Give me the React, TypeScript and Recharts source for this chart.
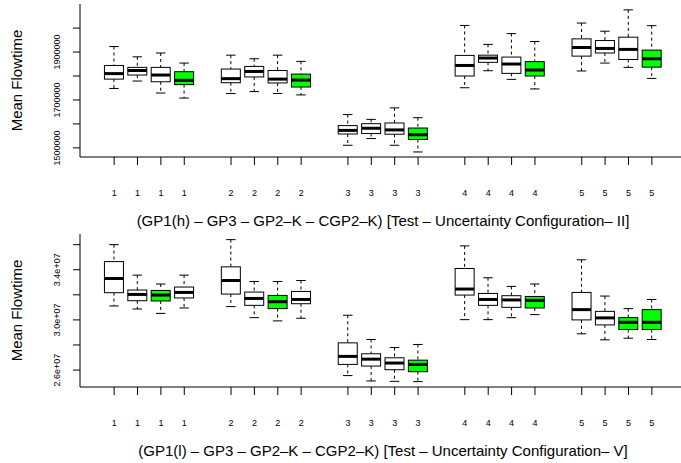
import { ComposedChart, Bar, XAxis, YAxis, Label } from "recharts";

// box positions (R "at") and the group number printed under each box
const positions = [1, 2, 3, 4, 6, 7, 8, 9, 11, 12, 13, 14, 16, 17, 18, 19, 21, 22, 23, 24];
const groupLabels = ["1", "1", "1", "1", "2", "2", "2", "2", "3", "3", "3", "3", "4", "4", "4", "4", "5", "5", "5", "5"];

// Configuration II, GP1(h)
const hMin = [1748000, 1779000, 1729000, 1708000, 1727000, 1735000, 1727000, 1721000, 1511000, 1539000, 1511000, 1483000, 1751000, 1822000, 1786000, 1746000, 1821000, 1854000, 1836000, 1790000];
const hQ1 = [1787000, 1804000, 1776000, 1764000, 1772000, 1796000, 1771000, 1754000, 1558000, 1560000, 1557000, 1535000, 1800000, 1857000, 1811000, 1800000, 1883000, 1896000, 1869000, 1837000];
const hMed = [1810000, 1823000, 1804000, 1782000, 1789000, 1819000, 1787000, 1783000, 1573000, 1582000, 1575000, 1555000, 1844000, 1875000, 1850000, 1825000, 1919000, 1915000, 1911000, 1872000];
const hQ3 = [1844000, 1836000, 1836000, 1818000, 1829000, 1840000, 1823000, 1808000, 1593000, 1601000, 1604000, 1583000, 1886000, 1887000, 1879000, 1860000, 1955000, 1948000, 1962000, 1908000];
const hMax = [1923000, 1880000, 1896000, 1854000, 1887000, 1872000, 1887000, 1861000, 1639000, 1619000, 1667000, 1626000, 2011000, 1932000, 1977000, 1944000, 2021000, 1987000, 2076000, 2010000];
const hGreen = [3, 7, 11, 15, 19];
const hTicks = [1500000, 1600000, 1700000, 1800000, 1900000, 2000000];
const hTickLabels = ["1500000", "", "1700000", "", "1900000", ""];

// Configuration V, GP1(l)
const lMin = [31110000, 30870000, 30520000, 30950000, 31060000, 30180000, 29920000, 30130000, 25560000, 25130000, 25100000, 25080000, 30020000, 30020000, 30180000, 30420000, 28890000, 28410000, 28540000, 28440000];
const lQ1 = [32170000, 31530000, 31510000, 31750000, 32060000, 31160000, 30900000, 31290000, 26450000, 26320000, 26030000, 25870000, 31980000, 31160000, 31000000, 30950000, 30000000, 29600000, 29230000, 29230000];
const lMed = [33300000, 32030000, 31980000, 32190000, 33140000, 31710000, 31450000, 31630000, 27090000, 26870000, 26560000, 26450000, 32460000, 31630000, 31590000, 31560000, 30820000, 30160000, 29810000, 29810000];
const lQ3 = [34650000, 32380000, 32350000, 32620000, 34230000, 32220000, 31950000, 32270000, 28170000, 27300000, 26980000, 26790000, 34100000, 32110000, 31930000, 31870000, 32190000, 30680000, 30180000, 30820000];
const lMax = [36000000, 33570000, 32860000, 33570000, 36400000, 33060000, 33060000, 33140000, 30370000, 28440000, 27800000, 28040000, 35900000, 33360000, 32670000, 32860000, 34790000, 31900000, 30900000, 31630000];
const lGreen = [2, 6, 11, 15, 18, 19];
const lTicks = [26000000, 28000000, 30000000, 32000000, 34000000, 36000000];
const lTickLabels = ["2.6e+07", "", "3.0e+07", "", "3.4e+07", ""];

const GREEN = "#00ff00";
const X_DOMAIN: [number, number] = [-0.46, 25.46];

function buildRows(lo: number[], q1: number[], med: number[], q3: number[], hi: number[], green: number[]) {
  return positions.map((pos, i) => ({
    pos,
    lo: lo[i],
    q1: q1[i],
    med: med[i],
    q3: q3[i],
    hi: hi[i],
    boxFill: green.includes(i) ? GREEN : "#ffffff",
  }));
}

// whole box-and-whisker drawn inside the [min, max] range bar
function BoxShape(props: any) {
  const { x, y, width, height, payload } = props;
  if (payload == null || height == null) return null;
  const { lo, q1, med, q3, hi, boxFill } = payload;
  const py = (v: number) => y + (height * (hi - v)) / (hi - lo);
  const cx = x + width / 2;
  const cap = width / 4;
  return (
    <g stroke="#000" strokeWidth={1}>
      <line x1={cx} x2={cx} y1={py(hi)} y2={py(q3)} strokeDasharray="3 3" />
      <line x1={cx} x2={cx} y1={py(q1)} y2={py(lo)} strokeDasharray="3 3" />
      <line x1={cx - cap} x2={cx + cap} y1={py(hi)} y2={py(hi)} />
      <line x1={cx - cap} x2={cx + cap} y1={py(lo)} y2={py(lo)} />
      <rect x={x} y={py(q3)} width={width} height={py(q1) - py(q3)} fill={boxFill} />
      <line x1={x} x2={x + width} y1={py(med)} y2={py(med)} strokeWidth={3} />
    </g>
  );
}

// rotated y tick labels, only every other tick is labelled
function YTick(props: any) {
  const { x, y, payload, ticks, labels } = props;
  const label = labels[ticks.indexOf(payload.value)];
  if (!label) return null;
  return (
    <text x={x} y={y} transform={`rotate(-90, ${x}, ${y})`} textAnchor="middle" fontSize={9} fill="#000">
      {label}
    </text>
  );
}

interface PanelProps {
  rows: ReturnType<typeof buildRows>;
  yDomain: [number, number];
  yTicks: number[];
  yLabels: string[];
  title: string;
  height: number;
  axisHeight: number;
  titleOffset: number;
}

function Panel({ rows, yDomain, yTicks, yLabels, title, height, axisHeight, titleOffset }: PanelProps) {
  return (
    <ComposedChart width={700} height={height} data={rows} margin={{ top: 4, right: 14, bottom: 0, left: 0 }}>
      <XAxis
        dataKey="pos"
        type="number"
        domain={X_DOMAIN}
        ticks={positions}
        interval={0}
        height={axisHeight}
        tickSize={8}
        tickMargin={25}
        tickFormatter={(v: number) => groupLabels[positions.indexOf(v)]}
        tick={{ fontSize: 9, fill: "#000" }}
        axisLine={{ stroke: "#000" }}
        tickLine={{ stroke: "#000" }}
      >
        <Label value={title} position="insideBottom" offset={titleOffset} fontSize={15} fill="#000" />
      </XAxis>
      <XAxis
        xAxisId="frame"
        orientation="top"
        type="number"
        domain={X_DOMAIN}
        height={0}
        tick={false}
        tickLine={false}
        axisLine={{ stroke: "#000" }}
      />
      <YAxis
        type="number"
        domain={yDomain}
        ticks={yTicks}
        interval={0}
        width={80}
        tickSize={7}
        tickMargin={13}
        tick={<YTick ticks={yTicks} labels={yLabels} />}
        axisLine={{ stroke: "#000" }}
        tickLine={{ stroke: "#000" }}
      >
        <Label
          value="Mean Flowtime"
          angle={-90}
          position="insideLeft"
          offset={17}
          fontSize={15}
          fill="#000"
          style={{ textAnchor: "middle" }}
        />
      </YAxis>
      <Bar
        dataKey={(d: any) => [d.lo, d.hi]}
        barSize={19}
        shape={<BoxShape />}
        isAnimationActive={false}
      />
    </ComposedChart>
  );
}

export default function App() {
  const hRows = buildRows(hMin, hQ1, hMed, hQ3, hMax, hGreen);
  const lRows = buildRows(lMin, lQ1, lMed, lQ3, lMax, lGreen);
  return (
    <div
      style={{
        position: "fixed",
        left: 0,
        top: 0,
        width: 681,
        height: 463,
        overflow: "hidden",
        background: "#fff",
        fontFamily: "'Liberation Sans', Arial, sans-serif",
      }}
    >
      <Panel
        rows={hRows}
        yDomain={[1462000, 2100500]}
        yTicks={hTicks}
        yLabels={hTickLabels}
        title="(GP1(h) – GP3 – GP2–K – CGP2–K) [Test – Uncertainty Configuration– II]"
        height={230}
        axisHeight={73}
        titleOffset={4}
      />
      <Panel
        rows={lRows}
        yDomain={[24650000, 36849000]}
        yTicks={lTicks}
        yLabels={lTickLabels}
        title="(GP1(l) – GP3 – GP2–K – CGP2–K) [Test – Uncertainty Configuration– V]"
        height={233}
        axisHeight={76}
        titleOffset={7}
      />
    </div>
  );
}
